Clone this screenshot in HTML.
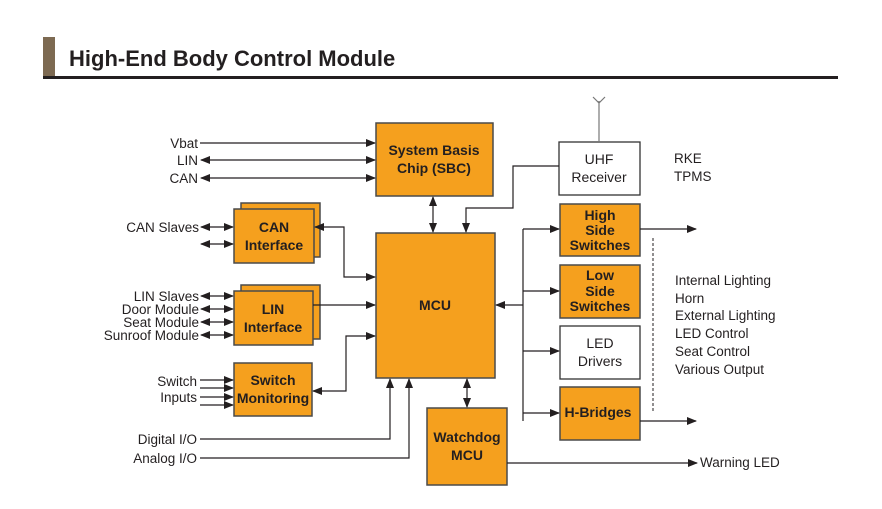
<!DOCTYPE html>
<html><head><meta charset="utf-8"><style>
html,body{margin:0;padding:0;background:#fff}
svg{display:block}
text{font-family:"Liberation Sans",Arial,sans-serif;font-size:13.5px;fill:#231f20}
.b{fill:#f5a01e;stroke:#4a4a4a;stroke-width:1.5}
.w{fill:#fff;stroke:#333;stroke-width:1.3}
.t{font-weight:bold;text-anchor:middle;font-size:14px}
.l{stroke:#231f20;stroke-width:1.2;fill:none}
.r{text-anchor:end}
</style></head><body>
<svg width="882" height="509" viewBox="0 0 882 509" xmlns="http://www.w3.org/2000/svg">
<defs>
<marker id="a" markerWidth="10" markerHeight="8" refX="9" refY="4" orient="auto" markerUnits="userSpaceOnUse"><path d="M0,0 L10,4 L0,8 z" fill="#231f20"/></marker>
<marker id="s" markerWidth="10" markerHeight="8" refX="1" refY="4" orient="auto" markerUnits="userSpaceOnUse"><path d="M10,0 L0,4 L10,8 z" fill="#231f20"/></marker>
</defs>
<rect x="43" y="37" width="12" height="41" fill="#7d6a52"/>
<rect x="43" y="76" width="795" height="3" fill="#231f20"/>
<text x="69" y="66" style="font-size:22px;font-weight:bold">High-End Body Control Module</text>

<rect class="b" x="376" y="123" width="117" height="73"/>
<text class="t" x="434" y="155">System Basis</text><text class="t" x="434" y="173">Chip (SBC)</text>
<rect class="b" x="376" y="233" width="119" height="145"/>
<text class="t" x="435" y="310">MCU</text>
<rect class="b" x="427" y="408" width="80" height="77"/>
<text class="t" x="467" y="442">Watchdog</text><text class="t" x="467" y="460">MCU</text>

<rect class="b" x="241" y="203" width="79" height="54"/>
<rect class="b" x="234" y="209" width="80" height="54"/>
<text class="t" x="274" y="232">CAN</text><text class="t" x="274" y="250">Interface</text>
<rect class="b" x="241" y="285" width="79" height="54"/>
<rect class="b" x="234" y="291" width="79" height="54"/>
<text class="t" x="273" y="314">LIN</text><text class="t" x="273" y="332">Interface</text>
<rect class="b" x="234" y="363" width="78" height="53"/>
<text class="t" x="273" y="385">Switch</text><text class="t" x="273" y="403">Monitoring</text>

<rect class="w" x="559" y="142" width="81" height="53"/>
<text class="t" x="599" y="164" style="font-weight:normal">UHF</text><text class="t" x="599" y="182" style="font-weight:normal">Receiver</text>
<rect class="b" x="560" y="204" width="80" height="52"/>
<text class="t" x="600" y="220">High</text><text class="t" x="600" y="235">Side</text><text class="t" x="600" y="250">Switches</text>
<rect class="b" x="560" y="265" width="80" height="53"/>
<text class="t" x="600" y="280">Low</text><text class="t" x="600" y="296">Side</text><text class="t" x="600" y="311">Switches</text>
<rect class="w" x="560" y="326" width="80" height="53"/>
<text class="t" x="600" y="348" style="font-weight:normal">LED</text><text class="t" x="600" y="366" style="font-weight:normal">Drivers</text>
<rect class="b" x="560" y="387" width="80" height="53"/>
<text class="t" x="598" y="417">H-Bridges</text>

<text class="r" x="198" y="148">Vbat</text>
<text class="r" x="198" y="165">LIN</text>
<text class="r" x="198" y="183">CAN</text>
<path class="l" d="M200,143 H375" marker-end="url(#a)"/>
<path class="l" d="M201,160 H375" marker-start="url(#s)" marker-end="url(#a)"/>
<path class="l" d="M201,178 H375" marker-start="url(#s)" marker-end="url(#a)"/>

<text class="r" x="199" y="232">CAN Slaves</text>
<path class="l" d="M201,227 H233" marker-start="url(#s)" marker-end="url(#a)"/>
<path class="l" d="M201,244 H233" marker-start="url(#s)" marker-end="url(#a)"/>
<path class="l" d="M315,227 H344 V277 H375" marker-start="url(#s)" marker-end="url(#a)"/>

<text class="r" x="199" y="301">LIN Slaves</text>
<text class="r" x="199" y="314">Door Module</text>
<text class="r" x="199" y="327">Seat Module</text>
<text class="r" x="199" y="340">Sunroof Module</text>
<path class="l" d="M201,296 H233" marker-start="url(#s)" marker-end="url(#a)"/>
<path class="l" d="M201,309 H233" marker-start="url(#s)" marker-end="url(#a)"/>
<path class="l" d="M201,322 H233" marker-start="url(#s)" marker-end="url(#a)"/>
<path class="l" d="M201,335 H233" marker-start="url(#s)" marker-end="url(#a)"/>
<path class="l" d="M313,305 H375" marker-end="url(#a)"/>

<text class="r" x="197" y="386">Switch</text>
<text class="r" x="197" y="402">Inputs</text>
<path class="l" d="M200,380 H233" marker-end="url(#a)"/>
<path class="l" d="M200,388 H233" marker-end="url(#a)"/>
<path class="l" d="M200,397 H233" marker-end="url(#a)"/>
<path class="l" d="M200,405 H233" marker-end="url(#a)"/>
<path class="l" d="M313,391 H346 V336 H375" marker-start="url(#s)" marker-end="url(#a)"/>

<text class="r" x="197" y="444">Digital I/O</text>
<text class="r" x="197" y="463">Analog I/O</text>
<path class="l" d="M200,439 H390 V379" marker-end="url(#a)"/>
<path class="l" d="M200,458 H409 V379" marker-end="url(#a)"/>

<path class="l" d="M467,379 V407" marker-start="url(#s)" marker-end="url(#a)"/>
<path class="l" d="M433,197 V232" marker-start="url(#s)" marker-end="url(#a)"/>
<path class="l" d="M559,166 H513 V208 H466 V232" marker-end="url(#a)"/>
<path d="M599,142 V101 M593,97 L599,103 L605,97" stroke="#777" stroke-width="1.2" fill="none"/>

<path class="l" d="M523,305 H496" marker-end="url(#a)"/>
<path class="l" d="M523,229 V421"/>
<path class="l" d="M523,229 H559" marker-end="url(#a)"/>
<path class="l" d="M523,291 H559" marker-end="url(#a)"/>
<path class="l" d="M523,351 H559" marker-end="url(#a)"/>
<path class="l" d="M523,413 H559" marker-end="url(#a)"/>
<path class="l" d="M640,229 H696" marker-end="url(#a)"/>
<path class="l" d="M640,421 H696" marker-end="url(#a)"/>
<path class="l" d="M507,463 H697" marker-end="url(#a)"/>
<path d="M653,238 V412" stroke="#231f20" stroke-width="1" stroke-dasharray="3,2"/>

<text x="674" y="163">RKE</text>
<text x="674" y="181">TPMS</text>
<text x="675" y="285">Internal Lighting</text>
<text x="675" y="303">Horn</text>
<text x="675" y="320">External Lighting</text>
<text x="675" y="338">LED Control</text>
<text x="675" y="356">Seat Control</text>
<text x="675" y="374">Various Output</text>
<text x="700" y="467">Warning LED</text>
</svg>
</body></html>
